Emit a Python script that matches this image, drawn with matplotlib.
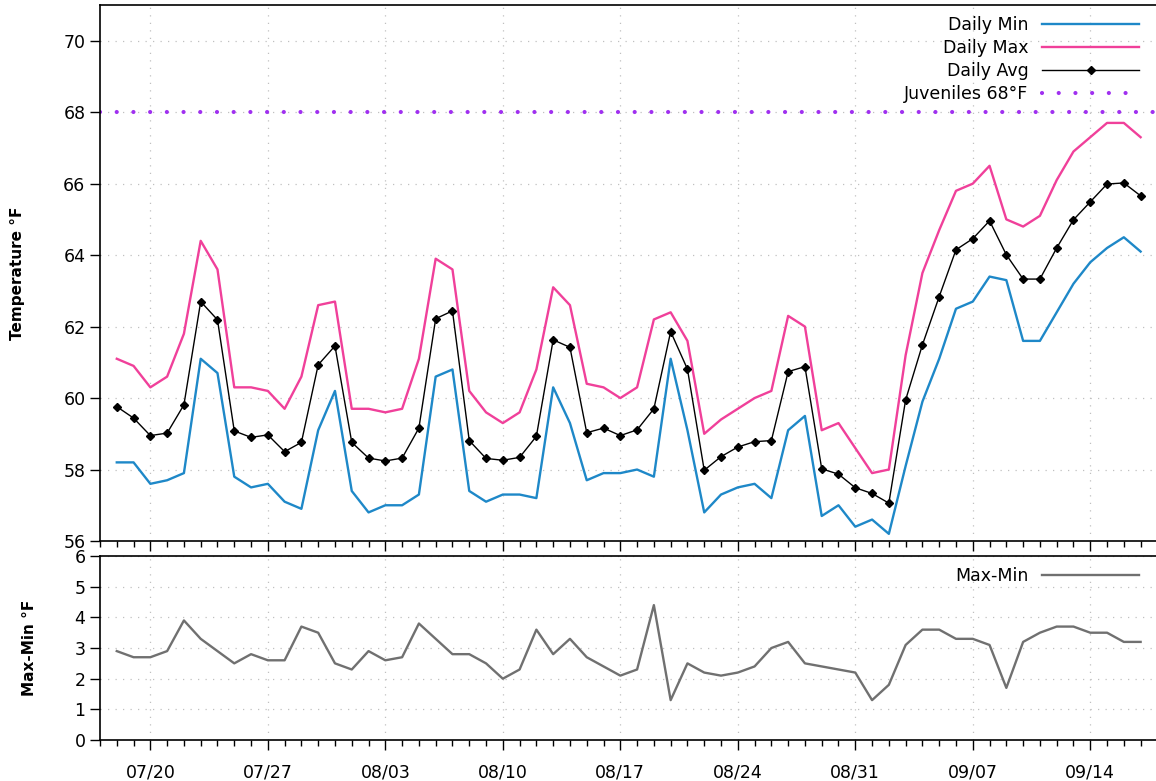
import numpy as np
import pandas as pd
import matplotlib
matplotlib.use('Agg')
import matplotlib.pyplot as plt
import matplotlib.dates as mdates

# Daily water temperature, 07/18 - 09/17
dates = pd.date_range('2020-07-18', '2020-09-17', freq='D')

daily_max = [61.1, 60.9, 60.3, 60.6, 61.8, 64.4, 63.6, 60.3, 60.3, 60.2,
             59.7, 60.6, 62.6, 62.7, 59.7, 59.7, 59.6, 59.7, 61.1, 63.9,
             63.6, 60.2, 59.6, 59.3, 59.6, 60.8, 63.1, 62.6, 60.4, 60.3,
             60.0, 60.3, 62.2, 62.4, 61.6, 59.0, 59.4, 59.7, 60.0, 60.2,
             62.3, 62.0, 59.1, 59.3, 58.6, 57.9, 58.0, 61.2, 63.5, 64.7,
             65.8, 66.0, 66.5, 65.0, 64.8, 65.1, 66.1, 66.9, 67.3, 67.7,
             67.7, 67.3]

daily_min = [58.2, 58.2, 57.6, 57.7, 57.9, 61.1, 60.7, 57.8, 57.5, 57.6,
             57.1, 56.9, 59.1, 60.2, 57.4, 56.8, 57.0, 57.0, 57.3, 60.6,
             60.8, 57.4, 57.1, 57.3, 57.3, 57.2, 60.3, 59.3, 57.7, 57.9,
             57.9, 58.0, 57.8, 61.1, 59.1, 56.8, 57.3, 57.5, 57.6, 57.2,
             59.1, 59.5, 56.7, 57.0, 56.4, 56.6, 56.2, 58.1, 59.9, 61.1,
             62.5, 62.7, 63.4, 63.3, 61.6, 61.6, 62.4, 63.2, 63.8, 64.2,
             64.5, 64.1]

daily_avg = [59.76, 59.44, 58.95, 59.02, 59.81, 62.70, 62.19, 59.08, 58.90, 58.97,
             58.50, 58.76, 60.93, 61.46, 58.76, 58.32, 58.24, 58.32, 59.16, 62.22,
             62.44, 58.81, 58.31, 58.26, 58.34, 58.93, 61.63, 61.42, 59.03, 59.16,
             58.95, 59.11, 59.70, 61.86, 60.81, 57.98, 58.36, 58.63, 58.78, 58.81,
             60.74, 60.88, 58.02, 57.87, 57.49, 57.33, 57.06, 59.95, 61.49, 62.84,
             64.15, 64.46, 64.96, 64.01, 63.33, 63.33, 64.20, 64.99, 65.49, 65.99,
             66.02, 65.66]

juvenile_limit = 68

diff = np.round(np.array(daily_max) - np.array(daily_min), 1)

fig = plt.figure(figsize=(11.56, 7.81), dpi=100)
ax1 = fig.add_axes([0.0865, 0.3073, 0.9135, 0.6863])
ax2 = fig.add_axes([0.0865, 0.0525, 0.9135, 0.2355], sharex=ax1)

grid_kw = dict(color='#c0c0c0', linestyle=(0, (1, 5)), linewidth=0.9)
label_font = ['Liberation Sans Narrow', 'DejaVu Sans']

ax1.plot(dates, daily_min, color='#1e88c8', lw=1.7, label='Daily Min')
ax1.plot(dates, daily_max, color='#f0409a', lw=1.7, label='Daily Max')
ax1.plot(dates, daily_avg, color='black', lw=1.0, marker='D', markersize=4.5,
         label='Daily Avg')
ax1.axhline(juvenile_limit, color='#a030f0', lw=3.0,
            linestyle=(0, (0.01, 4.0)), dash_capstyle='round',
            label='Juveniles 68°F')

ax1.set_ylim(56, 71)
ax1.set_yticks(np.arange(56, 71, 2))
ax1.grid(True, **grid_kw)
ax1.set_ylabel('Temperature °F', fontsize=11, fontweight='bold', family=label_font)
ax1.yaxis.set_label_coords(-0.071, 0.5)
leg1 = ax1.legend(loc='upper right', bbox_to_anchor=(0.995, 1.0),
                  frameon=False, markerfirst=False, fontsize=12.5,
                  handlelength=5.6, labelspacing=0.28, borderaxespad=0.25)

ax2.plot(dates, diff, color='#707070', lw=1.7, label='Max-Min')
ax2.set_ylim(0, 6)
ax2.set_yticks(range(0, 7))
ax2.grid(True, **grid_kw)
ax2.set_ylabel('Max-Min °F', fontsize=11, fontweight='bold', family=label_font)
ax2.yaxis.set_label_coords(-0.060, 0.5)
ax2.legend(loc='upper right', bbox_to_anchor=(0.995, 1.0), frameon=False,
           markerfirst=False, fontsize=12.5, handlelength=5.6,
           borderaxespad=0.25)

ax1.set_xlim(pd.Timestamp('2020-07-17'), pd.Timestamp('2020-09-17 22:00'))
for ax in (ax1, ax2):
    ax.xaxis.set_major_locator(mdates.WeekdayLocator(byweekday=mdates.MO))
    ax.xaxis.set_minor_locator(mdates.DayLocator())
    ax.xaxis.set_major_formatter(mdates.DateFormatter('%m/%d'))
    ax.spines['right'].set_visible(False)
    ax.tick_params(axis='both', which='major', direction='out', length=7,
                   width=1, labelsize=12.5, colors='black')
    ax.tick_params(axis='x', which='minor', direction='out', length=4, width=1)
    for s in ax.spines.values():
        s.set_linewidth(1.2)

plt.setp(ax1.get_xticklabels(), visible=False)
ax2.tick_params(axis='x', which='major', pad=10)

plt.savefig('out.png', dpi=100)
